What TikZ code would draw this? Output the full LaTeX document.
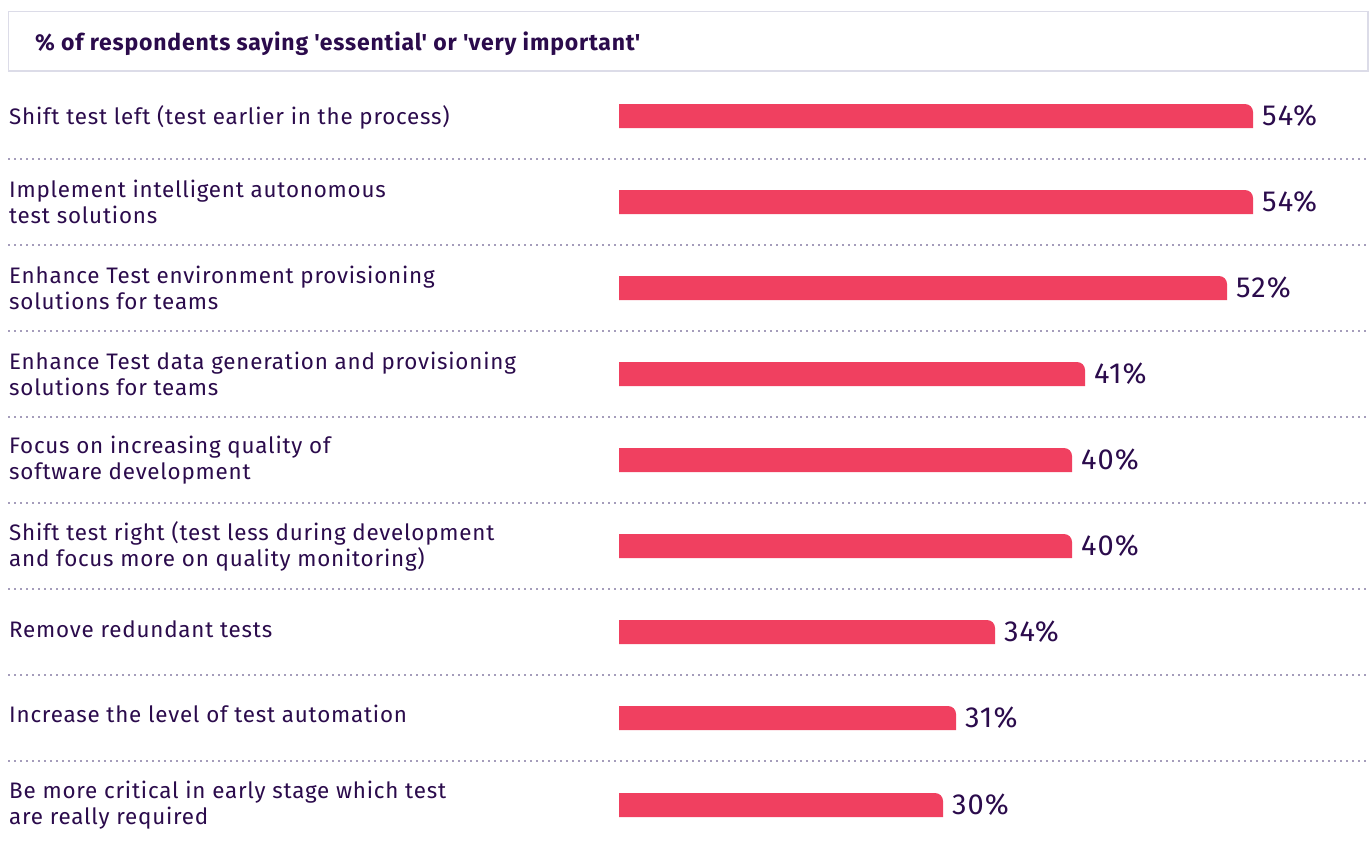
\documentclass[tikz,border=0pt]{standalone}
\usepackage{fontspec}
\setmainfont{Fira Sans}[LetterSpace=3.5]
\definecolor{txt}{HTML}{2B0B4C}
\definecolor{barc}{HTML}{F04060}
\definecolor{sepc}{HTML}{A59DBB}
\definecolor{framec}{HTML}{DCDCE8}
\begin{document}
\begin{tikzpicture}[x=1pt,y=-1pt,
  lab/.style={anchor=west, align=left, font=\fontsize{22.4}{26}\selectfont, text=txt, inner sep=0pt},
  pct/.style={anchor=west, font=\fontsize{29}{29}\selectfont, text=txt, inner sep=0pt},
  ttl/.style={anchor=west, font=\fontsize{23}{26}\selectfont\bfseries, text=txt, inner sep=0pt},
  barfill/.style={fill=barc},
  sepline/.style={draw=sepc, line width=1.6pt, dash pattern=on 1.6pt off 4.4pt, line cap=butt},
  framebox/.style={draw=framec, line width=1.2pt, fill=white}]
\fill[white] (0,0) rectangle (1372,846);
\useasboundingbox (0,0) rectangle (1372,846);
\draw[framebox] (8.5,11.5) rectangle (1368,71);
\node[ttl] (title) at (35,44) {\% of respondents saying \textquotesingle essential\textquotesingle{} or \textquotesingle very important\textquotesingle};
\foreach \i/\y/\ly/\e/\p/\t in {
  1/116/117/1253/54/{Shift test left (test earlier in the process)},
  2/202/202/1253/54/{Implement intelligent autonomous\\test solutions},
  3/288/288/1227/52/{Enhance Test environment provisioning\\solutions for teams},
  4/374/374/1085/41/{Enhance Test data generation and provisioning\\solutions for teams},
  5/460/460/1072/40/{Focus on increasing quality of\\software development},
  6/546/546/1072/40/{Shift test right (test less during development\\and focus more on quality monitoring)},
  7/632/629/995/34/{Remove redundant tests},
  8/718/714/956/31/{Increase the level of test automation},
  9/805/805/943/30/{Be more critical in early stage which test\\are really required}}{
  \node[lab] (l\i) at (9,\ly) {\t};
  \fill[barfill] (619,\y+12) -- (619,\y-12) -- (\e-8,\y-12) arc[start angle=-90, end angle=0, radius=8] -- (\e,\y+12) -- cycle;
  \coordinate (b\i) at (\e,\y);
  \node[pct] (p\i) at ([xshift=9pt]b\i) {\p\%};
}
\foreach \y in {159,245,331,417,503,589,675,761}{
  \draw[sepline] (8,\y) -- (1368,\y);
}
\end{tikzpicture}
\end{document}
